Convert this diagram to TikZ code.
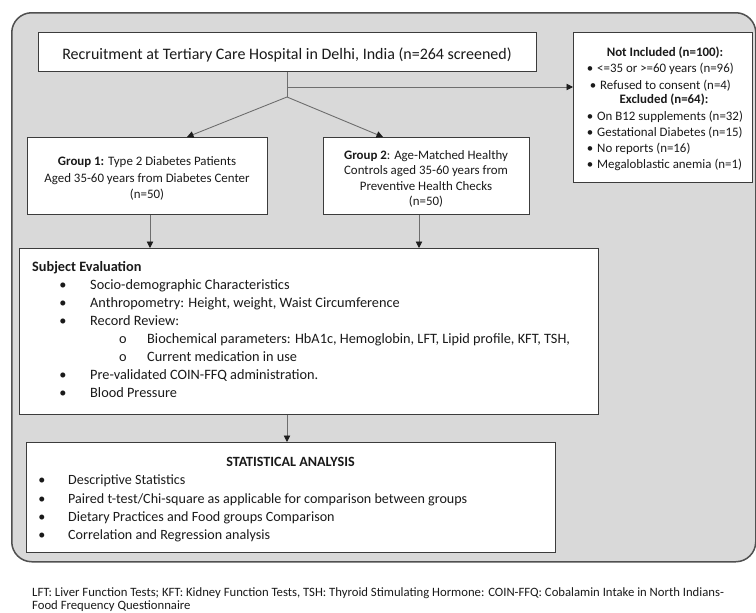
\documentclass[tikz,border=0pt]{standalone}
\usepackage{fontspec}
\setmainfont{Carlito}
\usetikzlibrary{arrows.meta}
\definecolor{framefill}{HTML}{D9D9D9}
\definecolor{frameline}{HTML}{505050}
\definecolor{boxline}{HTML}{3C3C3C}
\definecolor{connline}{HTML}{6E6E6E}
\definecolor{tipcol}{HTML}{1E1E1E}
\definecolor{ink}{HTML}{1A1A1A}
\begin{document}
\begin{tikzpicture}[x=1pt,y=-1pt,
  framebox/.style={draw=frameline, fill=framefill, line width=1.5pt, rounded corners=20pt, inner sep=0pt, anchor=north west},
  whitebox/.style={draw=boxline, fill=white, line width=1.2pt, inner sep=0pt, anchor=north west},
  conn/.style={draw=connline, line width=0.9pt, -{Triangle[length=6.5pt,width=6.5pt,color=tipcol]}},
  plainline/.style={draw=connline, line width=0.9pt},
  txt/.style={inner sep=0pt, text=ink, anchor=base west},
  ctxt/.style={inner sep=0pt, text=ink, anchor=base},
  btxt/.style={inner sep=0pt, text=ink, anchor=base},
  fgrp/.style={font=\fontsize{12.9}{15}\selectfont},
  ffoot/.style={font=\fontsize{12.7}{15}\selectfont},
  fsubj/.style={font=\fontsize{14.3}{17}\selectfont},
  fstat/.style={font=\fontsize{14.1}{17}\selectfont},
  fbig/.style={font=\fontsize{16}{19}\selectfont},
]
\useasboundingbox (0,0) rectangle (756,613);
\fill[white] (0,0) rectangle (756,613);

% frame
\node[framebox, minimum width=744pt, minimum height=549pt] (frame) at (11,12) {};

% boxes
\node[whitebox, minimum width=498pt, minimum height=39pt] (title) at (38,32) {};
\node[whitebox, minimum width=179pt, minimum height=150pt] (notinc) at (573,32) {};
\node[whitebox, minimum width=240pt, minimum height=77pt] (g1) at (27,137) {};
\node[whitebox, minimum width=206pt, minimum height=77pt] (g2) at (323,137) {};
\node[whitebox, minimum width=579pt, minimum height=166pt] (subj) at (19,248) {};
\node[whitebox, minimum width=529pt, minimum height=110pt] (stat) at (26,442) {};

% title text
\node[ctxt, fbig] (titletxt) at (287,59.5) {Recruitment at Tertiary Care Hospital in Delhi, India (n=264 screened)};

% group texts
\node[ctxt, fgrp] (g1a) at (147,165.5) {\textbf{Group 1:} Type 2 Diabetes Patients};
\node[ctxt, fgrp] (g1b) at (147,182.5) {Aged 35-60 years from Diabetes Center};
\node[ctxt, fgrp] (g1c) at (147,198.5) {(n=50)};
\node[ctxt, fgrp] (g2a) at (426,159.5) {\textbf{Group 2}: Age-Matched Healthy};
\node[ctxt, fgrp] (g2b) at (426,174.5) {Controls aged 35-60 years from};
\node[ctxt, fgrp] (g2c) at (426,190.5) {Preventive Health Checks};
\node[ctxt, fgrp] (g2d) at (426,205.5) {(n=50)};

% not included texts
\node[ctxt, fgrp] (ni0) at (665,56.3) {\textbf{Not Included (n=100):}};
\node[btxt, fgrp] (ni1b) at (590,72.3) {•};
\node[txt, fgrp] (ni1) at (597,72.3) {<=35 or >=60 years (n=96)};
\node[btxt, fgrp] (ni2b) at (593,89.3) {•};
\node[txt, fgrp] (ni2) at (600,89.3) {Refused to consent (n=4)};
\node[ctxt, fgrp] (ni3) at (664,103.3) {\textbf{Excluded (n=64):}};
\node[btxt, fgrp] (ni4b) at (590,120.3) {•};
\node[txt, fgrp] (ni4) at (597,120.3) {On B12 supplements (n=32)};
\node[btxt, fgrp] (ni5b) at (590,136.3) {•};
\node[txt, fgrp] (ni5) at (597,136.3) {Gestational Diabetes (n=15)};
\node[btxt, fgrp] (ni6b) at (590,152.3) {•};
\node[txt, fgrp] (ni6) at (597,152.3) {No reports (n=16)};
\node[btxt, fgrp] (ni7b) at (590,168.3) {•};
\node[txt, fgrp] (ni7) at (597,168.3) {Megaloblastic anemia (n=1)};

% subject evaluation texts
\node[txt, fsubj] (s0) at (32,271.7) {\textbf{Subject Evaluation}};
\node[btxt, fsubj] (s1b) at (63,289.7) {•};
\node[txt, fsubj] (s1) at (90,289.7) {Socio-demographic Characteristics};
\node[btxt, fsubj] (s2b) at (63,307.7) {•};
\node[txt, fsubj] (s2) at (90,307.7) {Anthropometry: Height, weight, Waist Circumference};
\node[btxt, fsubj] (s3b) at (63,325.7) {•};
\node[txt, fsubj] (s3) at (90,325.7) {Record Review:};
\node[btxt, fsubj] (s4b) at (123,343.7) {o};
\node[txt, fsubj] (s4) at (147,343.7) {Biochemical parameters: HbA1c, Hemoglobin, LFT, Lipid profile, KFT, TSH,};
\node[btxt, fsubj] (s5b) at (123,361.7) {o};
\node[txt, fsubj] (s5) at (147,361.7) {Current medication in use};
\node[btxt, fsubj] (s6b) at (63,379.7) {•};
\node[txt, fsubj] (s6) at (90,379.7) {Pre-validated COIN-FFQ administration.};
\node[btxt, fsubj] (s7b) at (63,397.7) {•};
\node[txt, fsubj] (s7) at (90,397.7) {Blood Pressure};

% statistical analysis texts
\node[ctxt, fstat] (t0) at (290.5,466.3) {\textbf{STATISTICAL ANALYSIS}};
\node[btxt, fstat] (t1b) at (42,484) {•};
\node[txt, fstat] (t1) at (68,484) {Descriptive Statistics};
\node[btxt, fstat] (t2b) at (42,503.3) {•};
\node[txt, fstat] (t2) at (68,503.3) {Paired t-test/Chi-square as applicable for comparison between groups};
\node[btxt, fstat] (t3b) at (42,521.3) {•};
\node[txt, fstat] (t3) at (68,521.3) {Dietary Practices and Food groups Comparison};
\node[btxt, fstat] (t4b) at (42,539.6) {•};
\node[txt, fstat] (t4) at (68,539.6) {Correlation and Regression analysis};

% footer
\node[txt, ffoot] (f1) at (32,596) {LFT: Liver Function Tests; KFT: Kidney Function Tests, TSH: Thyroid Stimulating Hormone: COIN-FFQ: Cobalamin Intake in North Indians-};
\node[txt, ffoot] (f2) at (32,609.3) {Food Frequency Questionnaire};

% connectors
\coordinate (split) at (287,97);
\coordinate (branch) at (287,87);
\coordinate (g1in) at (187,137);
\coordinate (g2in) at (383,137);
\draw[plainline] (title.south -| split) -- (split);
\draw[conn] (branch) -- (branch -| notinc.west);
\draw[conn] (split) -- (g1in);
\draw[conn] (split) -- (g2in);
\draw[conn] (g1.south -| 150,0) -- (subj.north -| 150,0);
\draw[conn] (g2.south -| 419,0) -- (subj.north -| 419,0);
\draw[conn] (subj.south -| split) -- (stat.north -| split);
\end{tikzpicture}
\end{document}
